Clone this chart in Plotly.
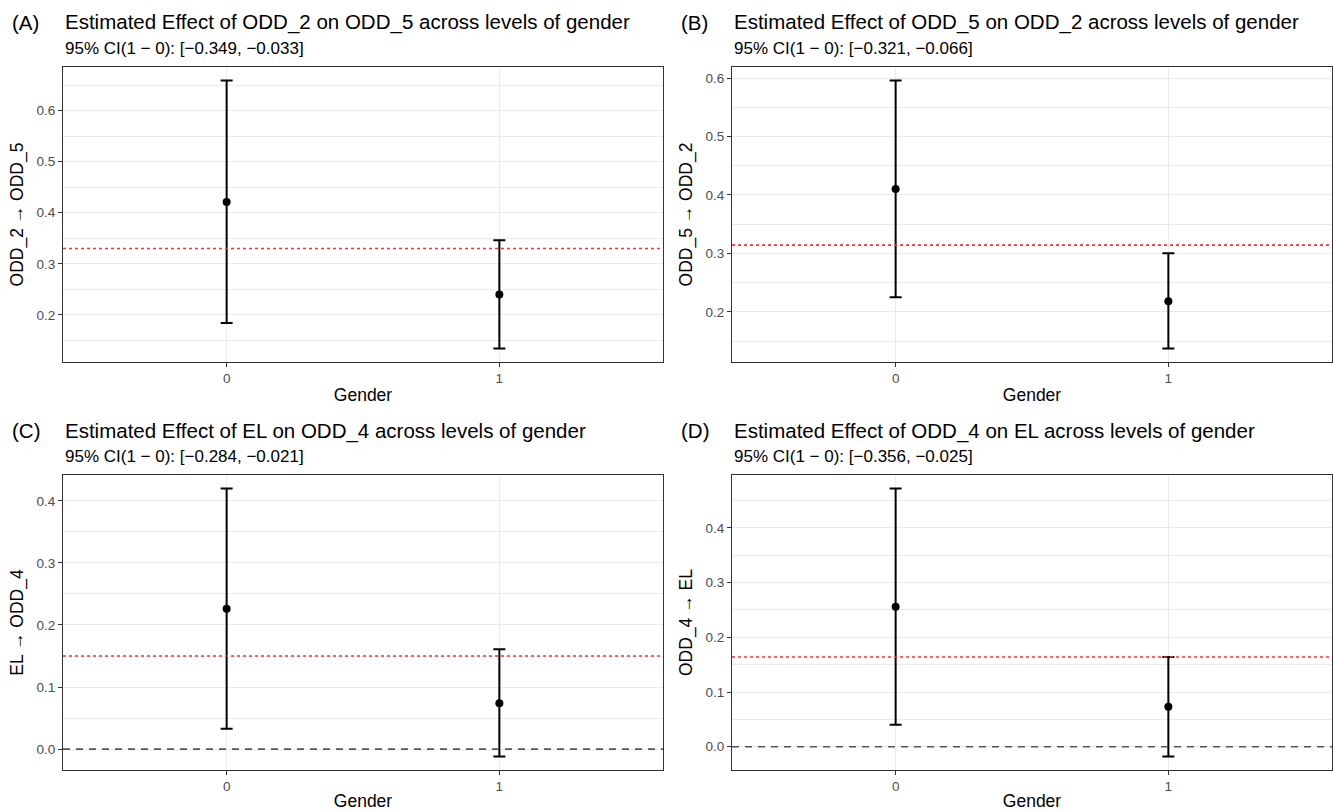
import plotly.graph_objects as go

# ---------------- data ----------------
gender_levels = [0, 1]
gender_labels = ["0", "1"]

panel_tags = ["(A)", "(B)", "(C)", "(D)"]
panel_titles = [
    "Estimated Effect of ODD_2 on ODD_5 across levels of gender",
    "Estimated Effect of ODD_5 on ODD_2 across levels of gender",
    "Estimated Effect of EL on ODD_4 across levels of gender",
    "Estimated Effect of ODD_4 on EL across levels of gender",
]
panel_subtitles = [
    "95% CI(1 \u2212 0): [\u22120.349, \u22120.033]",
    "95% CI(1 \u2212 0): [\u22120.321, \u22120.066]",
    "95% CI(1 \u2212 0): [\u22120.284, \u22120.021]",
    "95% CI(1 \u2212 0): [\u22120.356, \u22120.025]",
]
y_titles = ["ODD_2 \u2192 ODD_5", "ODD_5 \u2192 ODD_2", "EL \u2192 ODD_4", "ODD_4 \u2192 EL"]

est_A = [0.421, 0.240]
lo_A = [0.184, 0.134]
hi_A = [0.659, 0.346]
ref_A = 0.330

est_B = [0.410, 0.218]
lo_B = [0.225, 0.137]
hi_B = [0.596, 0.300]
ref_B = 0.314

est_C = [0.226, 0.074]
lo_C = [0.033, -0.012]
hi_C = [0.420, 0.161]
ref_C = 0.150

est_D = [0.256, 0.073]
lo_D = [0.040, -0.018]
hi_D = [0.472, 0.164]
ref_D = 0.164

zero_line = [False, False, True, True]

# ---------------- layout geometry ----------------
W, H = 1333, 811
FONT = "Liberation Sans, Arial, Helvetica, sans-serif"
boxes = [  # left, right, top, bottom in pixels
    (63, 663, 67, 362),
    (732, 1332, 67, 362),
    (63, 663, 475, 770),
    (732, 1332, 475, 770),
]

fig = go.Figure()
panels = [
    (est_A, lo_A, hi_A, ref_A),
    (est_B, lo_B, hi_B, ref_B),
    (est_C, lo_C, hi_C, ref_C),
    (est_D, lo_D, hi_D, ref_D),
]

annotations = []
shapes = []
for i, (est, lo, hi, ref) in enumerate(panels):
    n = i + 1
    xa = "x" if n == 1 else f"x{n}"
    ya = "y" if n == 1 else f"y{n}"
    l, r, t, b = boxes[i]

    vals = lo + hi + [ref] + ([0.0] if zero_line[i] else [])
    vmin, vmax = min(vals), max(vals)
    span = vmax - vmin
    yrange = [vmin - 0.05 * span, vmax + 0.05 * span]

    fig.add_trace(go.Scatter(
        x=gender_levels, y=est, mode="markers", xaxis=xa, yaxis=ya,
        marker=dict(color="black", size=8),
        error_y=dict(type="data", symmetric=False,
                     array=[h - e for h, e in zip(hi, est)],
                     arrayminus=[e - lo_ for e, lo_ in zip(est, lo)],
                     color="black", thickness=2, width=6),
        showlegend=False, hoverinfo="skip",
    ))

    axis_common = dict(
        showline=True, linecolor="#333333", linewidth=1.2, mirror=True,
        ticks="outside", ticklen=4, tickcolor="#333333", tickwidth=1,
        zeroline=False, gridcolor="#ebebeb", gridwidth=1.3,
        tickfont=dict(family=FONT, size=13.5, color="#4d4d4d"),
    )
    fig.update_layout({
        ("xaxis" if n == 1 else f"xaxis{n}"): dict(
            axis_common, domain=[l / W, r / W], anchor=ya,
            range=[-0.6, 1.6], tickvals=gender_levels, ticktext=gender_labels,
            showgrid=True,
            title=dict(text="Gender", font=dict(family=FONT, size=17.5, color="black"), standoff=3),
        ),
        ("yaxis" if n == 1 else f"yaxis{n}"): dict(
            axis_common, domain=[1 - b / H, 1 - t / H], anchor=xa,
            range=yrange, tick0=0, dtick=0.1, tickformat=".1f", showgrid=True,
            minor=dict(dtick=0.05, tick0=0, showgrid=True, gridcolor="#ebebeb", gridwidth=0.7, ticks=""),
            title=dict(text=y_titles[i], font=dict(family=FONT, size=17.5, color="black"), standoff=8),
        ),
    })

    # reference lines
    shapes.append(dict(type="line", xref=f"{xa} domain", yref=ya, x0=0, x1=1, y0=ref, y1=ref,
                       line=dict(color="#ff3030", width=1.6, dash="dot")))
    if zero_line[i]:
        shapes.append(dict(type="line", xref=f"{xa} domain", yref=ya, x0=0, x1=1, y0=0, y1=0,
                           line=dict(color="#555555", width=1.6, dash="7px,6px")))

    # tag, title, subtitle
    annotations.append(dict(text=panel_tags[i], xref="paper", yref="paper",
                            x=(l - 53) / W, y=1 - (t - 44.5) / H, xanchor="left", yanchor="middle",
                            showarrow=False, font=dict(family=FONT, size=20.5, color="black")))
    annotations.append(dict(text=panel_titles[i], xref="paper", yref="paper",
                            x=l / W, y=1 - (t - 44.5) / H, xanchor="left", yanchor="middle",
                            showarrow=False, font=dict(family=FONT, size=20.5, color="black")))
    annotations.append(dict(text=panel_subtitles[i], xref="paper", yref="paper",
                            x=l / W, y=1 - (t - 18.5) / H, xanchor="left", yanchor="middle",
                            showarrow=False, font=dict(family=FONT, size=17, color="black")))

fig.update_layout(
    width=W, height=H, margin=dict(l=0, r=0, t=0, b=0),
    paper_bgcolor="white", plot_bgcolor="white",
    annotations=annotations, shapes=shapes,
    font=dict(family=FONT),
)

fig.write_html("out.html", config={"displayModeBar": False},
               post_script="document.body.style.margin='0';")
